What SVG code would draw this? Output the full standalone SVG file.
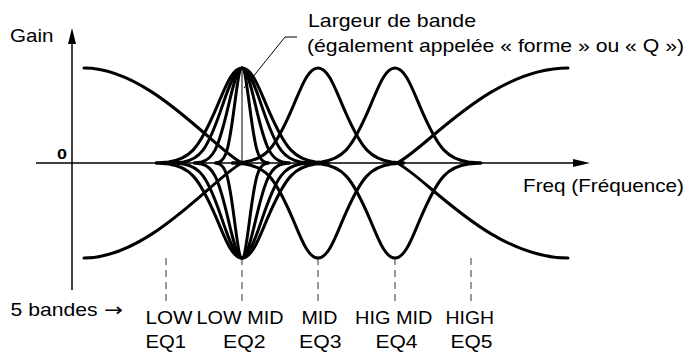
<svg xmlns="http://www.w3.org/2000/svg" width="687" height="356" viewBox="0 0 687 356">
<style>
.c{fill:none;stroke:#000;stroke-width:3;stroke-linejoin:round;stroke-linecap:round}
.ax{fill:none;stroke:#000;stroke-width:1.5}
.thin{fill:none;stroke:#000;stroke-width:1}
.dash{fill:none;stroke:#555;stroke-width:1.2;stroke-dasharray:7 5}
.t{font-family:"Liberation Sans",Arial,Helvetica,sans-serif;font-size:19px;fill:#000}
.b{font-family:"Liberation Sans",Arial,Helvetica,sans-serif;font-size:14px;font-weight:bold;fill:#000}
.ar{font-family:"DejaVu Sans",sans-serif;font-size:18px}
</style>
<rect width="687" height="356" fill="#fff"/>
<g id="axes">
  <line class="ax" x1="36" y1="163" x2="576" y2="163"/>
  <polygon points="590,163 573,159 573,167" fill="#000"/>
  <line class="ax" x1="72" y1="290" x2="72" y2="42"/>
  <polygon points="72,28 68,44 76,44" fill="#000"/>
  <text class="t" x="10" y="41.5" textLength="43.5" lengthAdjust="spacingAndGlyphs">Gain</text>
  <text class="b" x="57" y="158.8" textLength="10" lengthAdjust="spacingAndGlyphs">0</text>
  <text class="t" x="523" y="191.5" textLength="161" lengthAdjust="spacingAndGlyphs">Freq (Fréquence)</text>
</g>
<g id="band-markers">
  <line class="dash" x1="166" y1="258" x2="166" y2="305"/>
  <line class="dash" x1="242" y1="258" x2="242" y2="305"/>
  <line class="dash" x1="318" y1="258" x2="318" y2="305"/>
  <line class="dash" x1="395" y1="258" x2="395" y2="305"/>
  <line class="dash" x1="471" y1="258" x2="471" y2="305"/>
</g>
<g id="eq1-low">
  <path class="c" d="M84,68 C150,68 215,150 242,163"/>
  <path class="c" d="M84,258 C150,258 215,176 242,163"/>
</g>
<g id="eq2-lowmid">
  <line class="thin" x1="242" y1="68" x2="242" y2="163"/>
  <path class="c" d="M156.25,163 l12.25,-1.05 c8.17,-1.06 16.33,-3.23 24.5,-11.8 c8.17,-8.57 16.33,-25.56 24.5,-44.77 c8.17,-19.21 14.7,-37.38 24.5,-37.38 c9.8,0 16.33,18.17 24.5,37.38 c8.17,19.21 16.33,36.2 24.5,44.77 c8.17,8.57 16.33,10.74 24.5,11.8 l12.25,1.05"/>
  <path class="c" d="M156.25,163 l12.25,1.05 c8.17,1.06 16.33,3.23 24.5,11.8 c8.17,8.57 16.33,25.56 24.5,44.77 c8.17,19.21 14.7,37.38 24.5,37.38 c9.8,0 16.33,-18.17 24.5,-37.38 c8.17,-19.21 16.33,-36.2 24.5,-44.77 c8.17,-8.57 16.33,-10.74 24.5,-11.8 l12.25,-1.05"/>
  <path class="c" d="M173.75,163 l9.75,-1.05 c6.5,-1.06 13,-3.23 19.5,-11.8 c6.5,-8.57 13,-25.56 19.5,-44.77 c6.5,-19.21 13,-37.38 19.5,-37.38 c6.5,0 13,18.17 19.5,37.38 c6.5,19.21 13,36.2 19.5,44.77 c6.5,8.57 13,10.74 19.5,11.8 l9.75,1.05"/>
  <path class="c" d="M173.75,163 l9.75,1.05 c6.5,1.06 13,3.23 19.5,11.8 c6.5,8.57 13,25.56 19.5,44.77 c6.5,19.21 13,37.38 19.5,37.38 c6.5,0 13,-18.17 19.5,-37.38 c6.5,-19.21 13,-36.2 19.5,-44.77 c6.5,-8.57 13,-10.74 19.5,-11.8 l9.75,-1.05"/>
  <path class="c" d="M194.75,163 l6.75,-1.05 c4.5,-1.06 9,-3.23 13.5,-11.8 c4.5,-8.57 9,-25.56 13.5,-44.77 c4.5,-19.21 9,-37.38 13.5,-37.38 c4.5,0 9,18.17 13.5,37.38 c4.5,19.21 9,36.2 13.5,44.77 c4.5,8.57 9,10.74 13.5,11.8 l6.75,1.05"/>
  <path class="c" d="M194.75,163 l6.75,1.05 c4.5,1.06 9,3.23 13.5,11.8 c4.5,8.57 9,25.56 13.5,44.77 c4.5,19.21 9,37.38 13.5,37.38 c4.5,0 9,-18.17 13.5,-37.38 c4.5,-19.21 9,-36.2 13.5,-44.77 c4.5,-8.57 9,-10.74 13.5,-11.8 l6.75,-1.05"/>
  <path class="c" d="M215.75,163 l3.75,-1.05 c2.5,-1.06 5,-3.23 7.5,-11.8 c2.5,-8.57 5,-25.56 7.5,-44.77 c2.5,-19.21 5,-37.38 7.5,-37.38 c2.5,0 5,18.17 7.5,37.38 c2.5,19.21 5,36.2 7.5,44.77 c2.5,8.57 5,10.74 7.5,11.8 l3.75,1.05"/>
  <path class="c" d="M215.75,163 l3.75,1.05 c2.5,1.06 5,3.23 7.5,11.8 c2.5,8.57 5,25.56 7.5,44.77 c2.5,19.21 5,37.38 7.5,37.38 c2.5,0 5,-18.17 7.5,-37.38 c2.5,-19.21 5,-36.2 7.5,-44.77 c2.5,-8.57 5,-10.74 7.5,-11.8 l3.75,-1.05"/>
</g>
<g id="eq3-mid">
  <path class="c" d="M232.25,163 l12.25,-1.05 c8.17,-1.06 16.33,-3.23 24.5,-11.8 c8.17,-8.57 16.33,-25.56 24.5,-44.77 c8.17,-19.21 14.7,-37.38 24.5,-37.38 c9.8,0 16.33,18.17 24.5,37.38 c8.17,19.21 16.33,36.2 24.5,44.77 c8.17,8.57 16.33,10.74 24.5,11.8 l12.25,1.05"/>
  <path class="c" d="M232.25,163 l12.25,1.05 c8.17,1.06 16.33,3.23 24.5,11.8 c8.17,8.57 16.33,25.56 24.5,44.77 c8.17,19.21 14.7,37.38 24.5,37.38 c9.8,0 16.33,-18.17 24.5,-37.38 c8.17,-19.21 16.33,-36.2 24.5,-44.77 c8.17,-8.57 16.33,-10.74 24.5,-11.8 l12.25,-1.05"/>
</g>
<g id="eq4-higmid">
  <path class="c" d="M309.25,163 l12.25,-1.05 c8.17,-1.06 16.33,-3.23 24.5,-11.8 c8.17,-8.57 16.33,-25.56 24.5,-44.77 c8.17,-19.21 14.7,-37.38 24.5,-37.38 c9.8,0 16.33,18.17 24.5,37.38 c8.17,19.21 16.33,36.2 24.5,44.77 c8.17,8.57 16.33,10.74 24.5,11.8 l12.25,1.05"/>
  <path class="c" d="M309.25,163 l12.25,1.05 c8.17,1.06 16.33,3.23 24.5,11.8 c8.17,8.57 16.33,25.56 24.5,44.77 c8.17,19.21 14.7,37.38 24.5,37.38 c9.8,0 16.33,-18.17 24.5,-37.38 c8.17,-19.21 16.33,-36.2 24.5,-44.77 c8.17,-8.57 16.33,-10.74 24.5,-11.8 l12.25,-1.05"/>
</g>
<g id="eq5-high">
  <path class="c" d="M397,163 C425,150 490,68 568,68"/>
  <path class="c" d="M397,163 C425,176 490,258 568,258"/>
</g>
<g id="bandwidth-label">
  <polyline class="thin" points="297,37 285,37 244,88"/>
  <text class="t" x="308" y="26.7" textLength="168" lengthAdjust="spacingAndGlyphs">Largeur de bande</text>
  <text class="t" x="307" y="52" textLength="377" lengthAdjust="spacingAndGlyphs">(également appelée « forme » ou « Q »)</text>
</g>
<g id="band-labels">
  <text class="t" y="316"><tspan x="10.5" textLength="87" lengthAdjust="spacingAndGlyphs">5 bandes</tspan><tspan class="ar" x="104" textLength="19" lengthAdjust="spacingAndGlyphs">→</tspan></text>
  <text class="t" x="145.5" y="324" textLength="47" lengthAdjust="spacingAndGlyphs">LOW</text>
  <text class="t" x="196.5" y="324" textLength="87" lengthAdjust="spacingAndGlyphs">LOW MID</text>
  <text class="t" x="301.5" y="324" textLength="36" lengthAdjust="spacingAndGlyphs">MID</text>
  <text class="t" x="355" y="324" textLength="77.5" lengthAdjust="spacingAndGlyphs">HIG MID</text>
  <text class="t" x="445.5" y="324" textLength="48.5" lengthAdjust="spacingAndGlyphs">HIGH</text>
  <text class="t" x="145.5" y="348" textLength="40.5" lengthAdjust="spacingAndGlyphs">EQ1</text>
  <text class="t" x="223" y="348" textLength="42.5" lengthAdjust="spacingAndGlyphs">EQ2</text>
  <text class="t" x="299" y="348" textLength="42.5" lengthAdjust="spacingAndGlyphs">EQ3</text>
  <text class="t" x="375.5" y="348" textLength="42" lengthAdjust="spacingAndGlyphs">EQ4</text>
  <text class="t" x="450.5" y="348" textLength="42" lengthAdjust="spacingAndGlyphs">EQ5</text>
</g>
</svg>
